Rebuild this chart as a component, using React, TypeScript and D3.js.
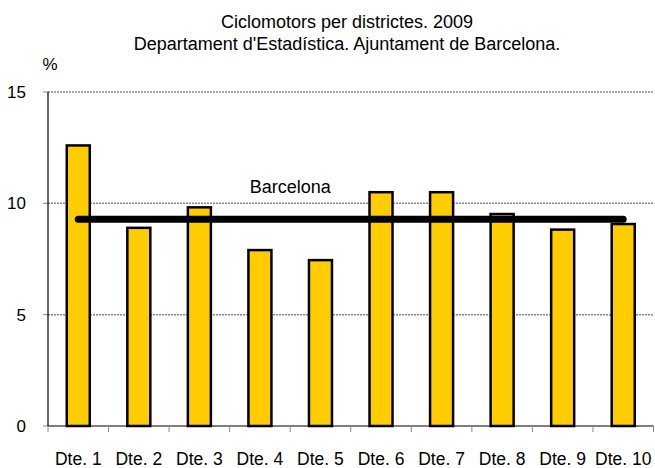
import React from "react";
import * as d3 from "d3";

const categories = ["Dte. 1", "Dte. 2", "Dte. 3", "Dte. 4", "Dte. 5", "Dte. 6", "Dte. 7", "Dte. 8", "Dte. 9", "Dte. 10"];
const values = [12.6, 8.9, 9.82, 7.9, 7.45, 10.5, 10.5, 9.52, 8.82, 9.07];
const barcelonaValue = 9.28;
const yTicks = [0, 5, 10, 15];
const titleLines = ["Ciclomotors per districtes. 2009", "Departament d'Estadística. Ajuntament de Barcelona."];
const unitLabel = "%";
const refLabel = "Barcelona";

const W = 655;
const H = 468;
const FONT = "'Liberation Sans', Arial, sans-serif";

export default function App() {
  const left = 48;
  const right = 653.5;
  const top = 92;
  const bottom = 426;

  const x = d3.scaleBand<string>().domain(categories).range([left, right]).paddingInner(0.62).paddingOuter(0.31);
  const y = d3.scaleLinear().domain([0, 15]).range([bottom, top]);
  const step = x.step();
  const bw = x.bandwidth();
  const boundaries = d3.range(categories.length + 1).map((i) => left + i * step);

  const lineX1 = (x(categories[0]) as number) + bw / 2;
  const lineX2 = (x(categories[categories.length - 1]) as number) + bw / 2;

  return (
    <svg width={W} height={H} style={{ position: "absolute", left: 0, top: 0, display: "block", background: "#fff" }}>
      <g fontFamily={FONT} fill="#000">
        <text x={347} y={28} fontSize={18} textAnchor="middle">{titleLines[0]}</text>
        <text x={347} y={50} fontSize={18} textAnchor="middle">{titleLines[1]}</text>
        <text x={50} y={70} fontSize={17} textAnchor="middle">{unitLabel}</text>
      </g>

      {/* grid lines */}
      {yTicks.filter((t) => t > 0).map((t) => (
        <line key={"g" + t} x1={left} x2={right} y1={y(t)} y2={y(t)} stroke="#8a8a8a" strokeWidth={1.5} strokeDasharray="2 1" />
      ))}

      {/* y ticks and labels */}
      {yTicks.map((t) => (
        <g key={"y" + t}>
          <line x1={left - 5} x2={left} y1={y(t)} y2={y(t)} stroke="#888" strokeWidth={1} />
          <text x={26} y={y(t)} dy="0.35em" fontSize={17} fontFamily={FONT} textAnchor="end">{t}</text>
        </g>
      ))}

      {/* bars */}
      {categories.map((c, i) => (
        <rect key={c} x={x(c)} y={y(values[i])} width={bw} height={y(0) - y(values[i])} fill="#FFCC00" stroke="#000" strokeWidth={2.5} />
      ))}

      {/* axes */}
      <line x1={left} x2={left} y1={top} y2={bottom} stroke="#000" strokeWidth={1.2} />
      <line x1={left} x2={right} y1={bottom} y2={bottom} stroke="#000" strokeWidth={1.2} />
      {boundaries.map((b, i) => (
        <line key={"xt" + i} x1={b} x2={b} y1={bottom} y2={bottom + 6} stroke="#888" strokeWidth={1} />
      ))}

      {/* Barcelona reference line */}
      <line x1={lineX1} x2={lineX2} y1={y(barcelonaValue)} y2={y(barcelonaValue)} stroke="#000" strokeWidth={7} strokeLinecap="round" />
      <text x={left + 4 * step} y={y(10) - 10} fontSize={18} fontFamily={FONT} textAnchor="middle">{refLabel}</text>

      {/* x labels */}
      {categories.map((c) => (
        <text key={"xl" + c} x={(x(c) as number) + bw / 2} y={465} fontSize={17.5} fontFamily={FONT} textAnchor="middle">{c}</text>
      ))}
    </svg>
  );
}
